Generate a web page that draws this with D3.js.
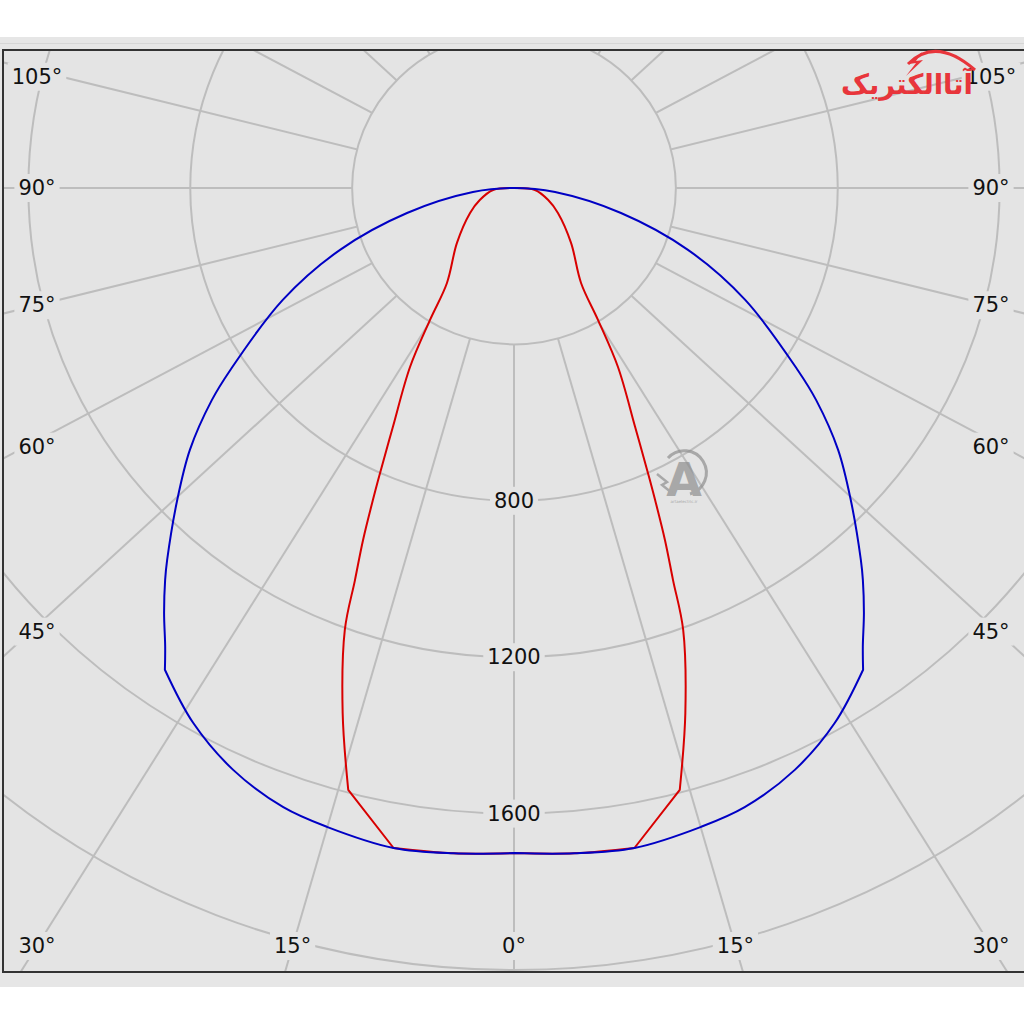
<!DOCTYPE html>
<html><head><meta charset="utf-8">
<script src="https://cdn.jsdelivr.net/npm/d3@7"></script>
<style>html,body{margin:0;padding:0;background:#fff;}svg{display:block;}</style>
</head><body>
<script>
// ---- data ----
const gridValues = [400, 800, 1200, 1600, 2000, 2400];
const valueLabels = [800, 1200, 1600];
const spokeAngles = [0, 15, 30, 45, 60, 75, 90, 105, 120, 135, 150, 165, 180];
const angleTickLabels = [0, 15, 30, 45, 60, 75, 90, 105];

// C90 plane (blue), angle from nadir in degrees, intensity in cd
const blueAngles = [0, 5, 10, 15.8, 19.8, 25, 30.1, 35, 36.3, 38.5, 40.7, 42, 46.2, 50.1, 54, 56.4, 63.4, 69.8, 76.4, 84.2, 90];
const blueValues = [1701, 1708, 1714, 1698, 1683, 1642, 1581, 1504, 1456, 1389, 1322, 1281, 1153, 1044, 923, 842, 639, 458, 272, 102, 0];
const blueCorners = [35];
// C0 plane (red)
const redAngles = [0, 5, 10, 14.9, 17.5, 20.3, 21.4, 22.5, 23.6, 24.2, 26.1, 29.3, 31.6, 34.3, 45.1, 59.5, 70, 84.4, 90];
const redValues = [1701, 1708, 1714, 1593, 1408, 1205, 1077, 975, 871, 819, 680, 525, 396, 294, 199, 126, 90, 52, 0];
const redCorners = [10, 14.9];

// ---- layout ----
const W = 1024, H = 1024;
const cx = 514, cy = 188;
const plot = {x: 3, y: 50, w: 1030, h: 922};
const kx = 1.035;      // horizontal aspect of circles & curves
const kSpoke = 1.09;   // horizontal aspect of radial lines
const bg = "#e4e4e4", gridCol = "#bdbdbd";
const r = d3.scaleLinear().domain([0, 2000]).range([0, 782]);
const rad = d => d * Math.PI / 180;
const FONT = "DejaVu Sans";

const svg = d3.select("body").append("svg").attr("width", W).attr("height", H);
svg.append("rect").attr("x", 0).attr("y", 37).attr("width", W).attr("height", 950).attr("fill", "#e6e6e6");
svg.append("line").attr("x1", 0).attr("x2", W).attr("y1", 43.5).attr("y2", 43.5).attr("stroke", "#d6d6d6").attr("stroke-width", 1);

svg.append("clipPath").attr("id", "pc").append("rect")
  .attr("x", plot.x).attr("y", plot.y).attr("width", plot.w).attr("height", plot.h);
svg.append("rect").attr("x", plot.x).attr("y", plot.y).attr("width", plot.w).attr("height", plot.h).attr("fill", bg);

const g = svg.append("g").attr("clip-path", "url(#pc)");

// radial lines
[-1, 1].forEach(side => {
  spokeAngles.forEach(a => {
    g.append("line").attr("x1", cx).attr("y1", cy)
      .attr("x2", cx + side * Math.sin(rad(a)) * kSpoke * 1500)
      .attr("y2", cy + Math.cos(rad(a)) * 1500)
      .attr("stroke", gridCol).attr("stroke-width", 2);
  });
});
// circles
gridValues.forEach(v => {
  g.append("ellipse").attr("cx", cx).attr("cy", cy).attr("rx", kx * r(v)).attr("ry", r(v))
    .attr("fill", v === gridValues[0] ? bg : "none").attr("stroke", gridCol).attr("stroke-width", 2);
});

// label helper with background box
function label(x, y, txt) {
  const t = g.append("text").attr("x", x).attr("y", y).attr("text-anchor", "middle")
    .attr("dominant-baseline", "central").attr("font-family", FONT).attr("font-size", 21)
    .attr("fill", "#111").text(txt);
  const b = t.node().getBBox();
  g.insert("rect", () => t.node()).attr("x", b.x - 4).attr("y", b.y - 2).attr("width", b.width + 8).attr("height", b.height + 4).attr("fill", bg);
}

// value labels
valueLabels.forEach(v => label(cx, cy + r(v), String(v)));

// angle labels along inset rectangle
const inL = 37, inR = 991, inB = 946;
angleTickLabels.forEach(a => {
  const sides = a === 0 ? [1] : [-1, 1];
  sides.forEach(side => {
    const dx = side * Math.sin(rad(a)) * kSpoke, dy = Math.cos(rad(a));
    let t = Infinity;
    if (Math.abs(dx) > 1e-9) t = Math.min(t, (side < 0 ? cx - inL : inR - cx) / Math.abs(dx));
    if (dy > 1e-9) t = Math.min(t, (inB - cy) / dy);
    label(cx + dx * t, cy + dy * t + (a > 30 && a !== 90 && a !== 75 ? 6 : 0), a + "°");
  });
});

// curves: smooth runs between sharp corners
function curvePath(angles, values, corners) {
  const pt = (i, s) => [cx + s * kx * r(values[i]) * Math.sin(rad(angles[i])), cy + r(values[i]) * Math.cos(rad(angles[i]))];
  const seq = [];
  angles.forEach((a, i) => seq.push({p: pt(i, -1), c: corners.includes(a)}));
  for (let i = angles.length - 2; i >= 0; i--) seq.push({p: pt(i, 1), c: corners.includes(angles[i])});
  const runs = []; let cur = [seq[0].p];
  for (let i = 1; i < seq.length; i++) {
    cur.push(seq[i].p);
    if (seq[i].c) { runs.push(cur); cur = [seq[i].p]; }
  }
  runs.push(cur);
  const ln = d3.line().curve(d3.curveCatmullRom.alpha(0.5));
  return runs.map((run, k) => {
    const d = run.length === 2 ? `M${run[0]}L${run[1]}` : ln(run);
    return k === 0 ? d : d.replace(/^M/, "L");
  }).join("");
}
g.append("path").attr("d", curvePath(redAngles, redValues, redCorners)).attr("fill", "none")
  .attr("stroke", "#d80000").attr("stroke-width", 2).attr("stroke-linejoin", "round");
g.append("path").attr("d", curvePath(blueAngles, blueValues, blueCorners)).attr("fill", "none")
  .attr("stroke", "#0000c4").attr("stroke-width", 2).attr("stroke-linejoin", "round");

// watermark
const wm = svg.append("g").attr("opacity", 0.7);
wm.append("path").attr("d", "M668,458 A22,22 0 1 1 690,494").attr("fill", "none").attr("stroke", "#8f8f8f").attr("stroke-width", 3);
wm.append("text").attr("x", 684).attr("y", 496).attr("text-anchor", "middle").attr("font-family", FONT)
  .attr("font-weight", "bold").attr("font-size", 46).attr("fill", "#8f8f8f").text("A");
wm.append("path").attr("d", "M657,474 L667,482 L662,485 L672,493").attr("fill", "none").attr("stroke", "#8f8f8f").attr("stroke-width", 2.5);
wm.append("text").attr("x", 684).attr("y", 503).attr("text-anchor", "middle").attr("font-family", FONT)
  .attr("font-size", 4).attr("fill", "#8f8f8f").text("artaelectric.ir");

// frame
svg.append("rect").attr("x", plot.x).attr("y", plot.y).attr("width", plot.w).attr("height", plot.h)
  .attr("fill", "none").attr("stroke", "#333").attr("stroke-width", 2);

// logo
const lg = svg.append("g");
lg.append("path").attr("d", "M908,64 Q936,36 975,70").attr("fill", "none").attr("stroke", "#e8353b").attr("stroke-width", 3);
lg.append("path").attr("d", "M922,52 L909,64 L916,63 L906,76 L923,60 L916,61 Z").attr("fill", "#e8353b");
lg.append("text").attr("x", 907).attr("y", 94).attr("text-anchor", "middle").attr("font-family", FONT)
  .attr("font-weight", "bold").attr("font-size", 28).attr("fill", "#e8353b")
  .attr("textLength", 132).attr("lengthAdjust", "spacingAndGlyphs").attr("direction", "rtl").text("آتاالکتریک");
</script>
</body></html>
